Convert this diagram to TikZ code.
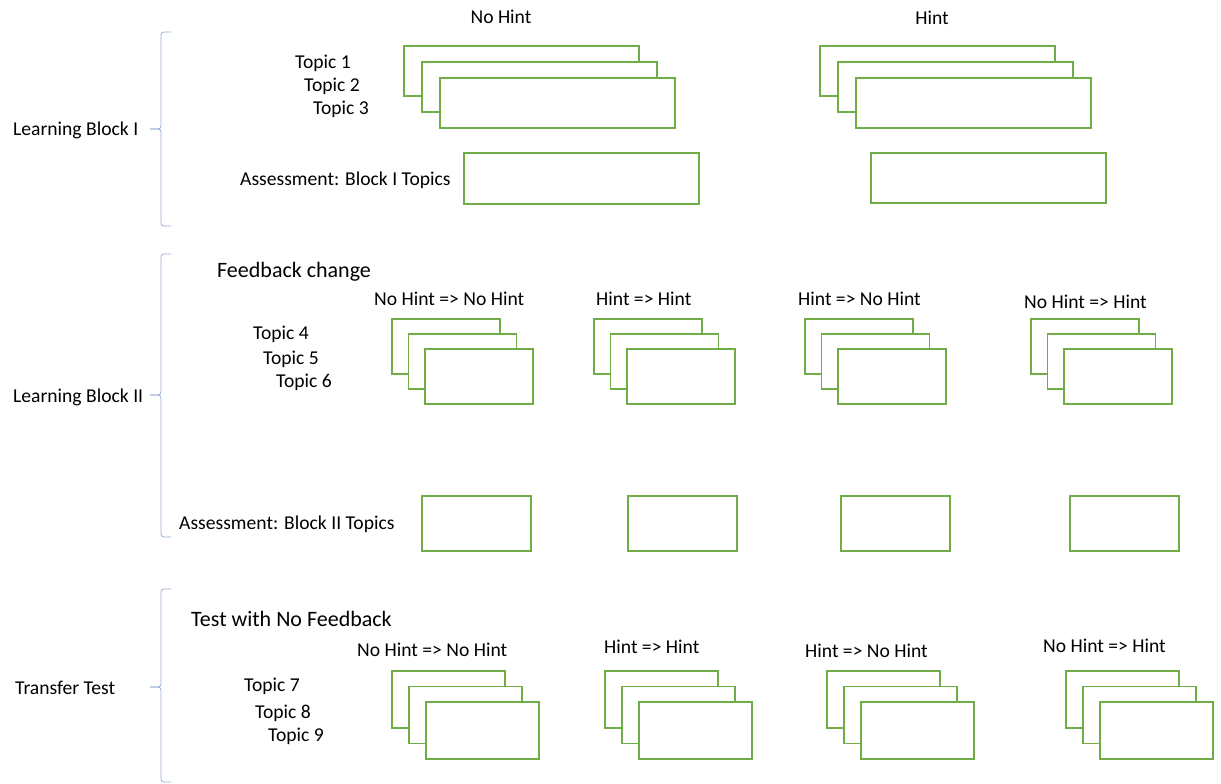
\documentclass[tikz,border=0pt]{standalone}
\usepackage{fontspec}
\setmainfont{Carlito}
\usepackage{tikz}
\usetikzlibrary{positioning}

\definecolor{cardgreen}{RGB}{112,173,71}
\definecolor{bracecol}{RGB}{150,172,212}

% three overlapping cards: left, top, width, height, shift x, shift y
\newcommand{\cardstack}[6]{%
  \foreach \k in {0,1,2}
    {\draw[card] (#1+\k*#5,#2+\k*#6) rectangle ++(#3,#4);}
}
% left brace: top, tip, bottom
\newcommand{\blockbrace}[3]{%
  \draw[bracecol, line width=0.8pt, rounded corners=3pt]
    (171,#1) -- (161,#1) -- (161,#2) -- (150,#2);
  \draw[bracecol, line width=0.8pt, rounded corners=3pt]
    (150,#2) -- (161,#2) -- (161,#3) -- (171,#3);
}

\begin{document}
\begin{tikzpicture}[x=1pt, y=-1pt,
    card/.style={draw=cardgreen, fill=white, line width=1.2pt},
    lbl/.style={anchor=west, inner sep=0pt, yshift=-1.5pt, font=\fontsize{19.6}{23}\selectfont},
    head/.style={anchor=west, inner sep=0pt, yshift=-1.5pt, font=\fontsize{22}{26}\selectfont}]
    \useasboundingbox (0,0) rectangle (1221,784);

    % Learning Block I
    \blockbrace{32}{129}{226}
    \node[lbl] (blockI) at (13,129) {Learning Block I};
    \node[lbl, anchor=center] (nohint) at (501,15) {No Hint};
    \node[lbl, anchor=center] (hint) at (932,16) {Hint};
    \node[lbl] (topic1) at (295,62) {Topic 1};
    \node[lbl] (topic2) at (304,85) {Topic 2};
    \node[lbl] (topic3) at (313,108) {Topic 3};
    \cardstack{404}{46}{235}{50}{18}{16}
    \cardstack{820}{46}{235}{50}{18}{16}
    \node[lbl] (assessI) at (240,179) {Assessment: Block I Topics};
    \draw[card] (464,153) rectangle ++(235,51);
    \draw[card] (871,153) rectangle ++(235,50);

    % Learning Block II
    \blockbrace{254}{395}{537}
    \node[lbl] (blockII) at (13,396) {Learning Block II};
    \node[head] (fbchange) at (217,270) {Feedback change};
    \node[lbl] (hdIIa) at (374,297) {No Hint => No Hint};
    \node[lbl] (hdIIb) at (596,297) {Hint => Hint};
    \node[lbl] (hdIIc) at (798,297) {Hint => No Hint};
    \node[lbl] (hdIId) at (1024,300) {No Hint => Hint};
    \node[lbl] (topic4) at (253,333) {Topic 4};
    \node[lbl] (topic5) at (263,358) {Topic 5};
    \node[lbl] (topic6) at (276,381) {Topic 6};
    \foreach \x in {392,594,805,1031}
      {\cardstack{\x}{319}{108}{55}{16.5}{15}}
    \node[lbl] (assessII) at (179,523) {Assessment: Block II Topics};
    \foreach \x in {422,628,841,1070}
      {\draw[card] (\x,496) rectangle ++(109,55);}

    % Transfer Test
    \blockbrace{589}{687}{782}
    \node[lbl] (transfer) at (15,686) {Transfer Test};
    \node[head] (nofb) at (191,617) {Test with No Feedback};
    \node[lbl] (hdIIIa) at (357,648) {No Hint => No Hint};
    \node[lbl] (hdIIIb) at (604,645) {Hint => Hint};
    \node[lbl] (hdIIIc) at (805,649) {Hint => No Hint};
    \node[lbl] (hdIIId) at (1043,644) {No Hint => Hint};
    \node[lbl] (topic7) at (244,685) {Topic 7};
    \node[lbl] (topic8) at (255,712) {Topic 8};
    \node[lbl] (topic9) at (268,735) {Topic 9};
    \foreach \x in {392,605,827,1066}
      {\cardstack{\x}{671}{113}{57}{17}{15.5}}
\end{tikzpicture}
\end{document}
